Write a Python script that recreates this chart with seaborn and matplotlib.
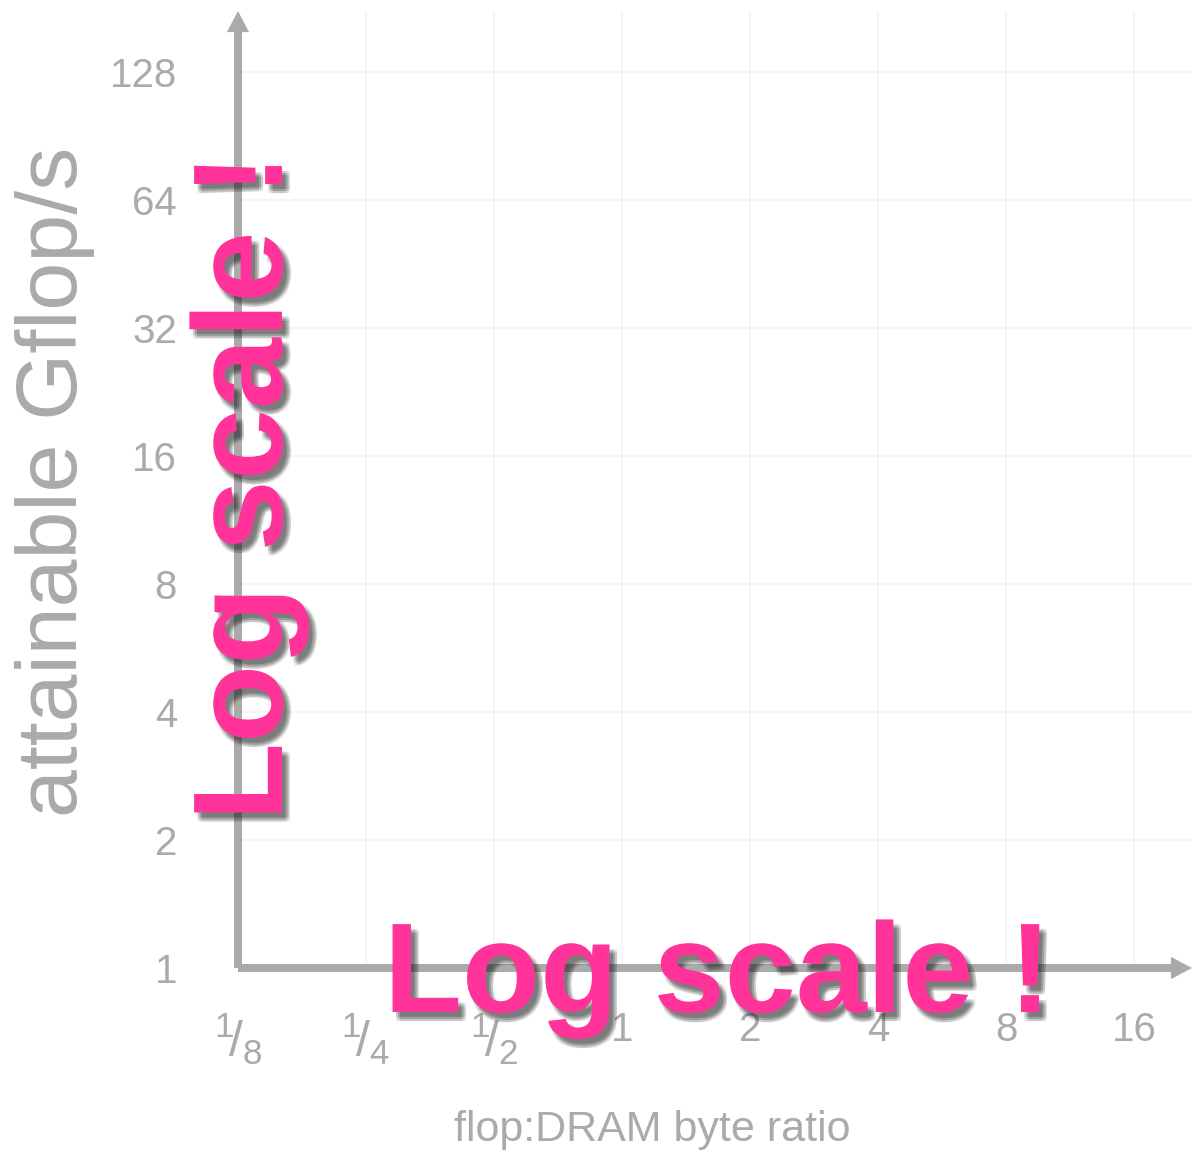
import matplotlib
matplotlib.use('Agg')
import matplotlib.pyplot as plt
import matplotlib.patheffects as pe
import seaborn as sns

# axis ticks (powers of two on both axes)
x_ticks = [1/8, 1/4, 1/2, 1, 2, 4, 8, 16]
x_tick_labels = [r'$^{1}\!/_{8}$', r'$^{1}\!/_{4}$', r'$^{1}\!/_{2}$', '1', '2', '4', '8', '16']
y_ticks = [1, 2, 4, 8, 16, 32, 64, 128]
y_tick_labels = ['1', '2', '4', '8', '16', '32', '64', '128']
x_label = 'flop:DRAM byte ratio'
y_label = 'attainable Gflop/s'
callout = 'Log scale !'

axis_gray = '#aaaaaa'
grid_gray = '#f4f4f4'
pink = '#ff3399'

sns.set_theme(style='white')
plt.rcParams['font.family'] = ['Liberation Sans', 'DejaVu Sans']
plt.rcParams['mathtext.fontset'] = 'custom'
plt.rcParams['mathtext.rm'] = 'Liberation Sans'
plt.rcParams['mathtext.it'] = 'Liberation Sans'
plt.rcParams['mathtext.bf'] = 'Liberation Sans:bold'

W, H = 1192, 1150
fig = plt.figure(figsize=(W / 100, H / 100), dpi=100)
fig.patch.set_facecolor('white')

# origin at pixel (238, 968), one doubling = 128 px
x0, y0, step = 238, 968, 128
ax = fig.add_axes([x0 / W, (H - y0) / H, (W - x0) / W, (y0 - 11) / H])
ax.set_xscale('log', base=2)
ax.set_yscale('log', base=2)
ax.set_xlim(x_ticks[0], x_ticks[0] * 2 ** ((W - x0) / step))
ax.set_ylim(y_ticks[0], y_ticks[0] * 2 ** ((y0 - 11) / step))

ax.set_xticks(x_ticks, labels=x_tick_labels)
ax.set_yticks(y_ticks, labels=y_tick_labels)
ax.minorticks_off()
ax.tick_params(axis='both', length=0, labelsize=29, labelcolor=axis_gray)
ax.tick_params(axis='x', pad=31)
ax.tick_params(axis='y', pad=44)
# fractions are drawn a bit larger, like the reference
for lab in ax.get_xticklabels()[:3]:
    lab.set_fontsize(36)

ax.grid(True, color=grid_gray, lw=1.3)
ax.set_axisbelow(True)
sns.despine(ax=ax, left=True, bottom=True)

# arrowed axes
arrow = dict(arrowstyle='simple,head_length=0.95,head_width=1.0,tail_width=0.36',
             mutation_scale=16, fc=axis_gray, ec='none', shrinkA=0, shrinkB=0)
ax.annotate('', xy=(1, 0), xytext=(0, 0), xycoords='axes fraction',
            arrowprops=arrow, annotation_clip=False)
ax.annotate('', xy=(0, 1), xytext=(0, 0), xycoords='axes fraction',
            arrowprops=arrow, annotation_clip=False)

ax.set_xlabel(x_label, fontsize=31, color=axis_gray)
ax.xaxis.set_label_coords((652 - x0) / (W - x0), (y0 - 1110) / (y0 - 11))
ax.set_ylabel(y_label, fontsize=62, color=axis_gray)
ax.yaxis.set_label_coords((95 - x0) / (W - x0), (y0 - 482) / (y0 - 11))

# soft drop shadow for the pink callouts
shadow = []
for dx in (2.5, 4, 5.5):
    for dy in (-3.5, -5, -6.5):
        shadow.append(pe.SimplePatchShadow(offset=(dx, dy), shadow_rgbFace='#222222', alpha=0.09))
shadow.append(pe.Normal())

fig.text(384 / W, 1 - 1012 / H, callout, fontsize=92, fontweight='bold', color=pink,
         ha='left', va='baseline', path_effects=shadow)
fig.text(282 / W, 1 - 821 / H, callout, fontsize=92, fontweight='bold', color=pink,
         ha='left', va='baseline', rotation=90, rotation_mode='anchor', path_effects=shadow)

fig.savefig('out.png', dpi=100, facecolor='white')
